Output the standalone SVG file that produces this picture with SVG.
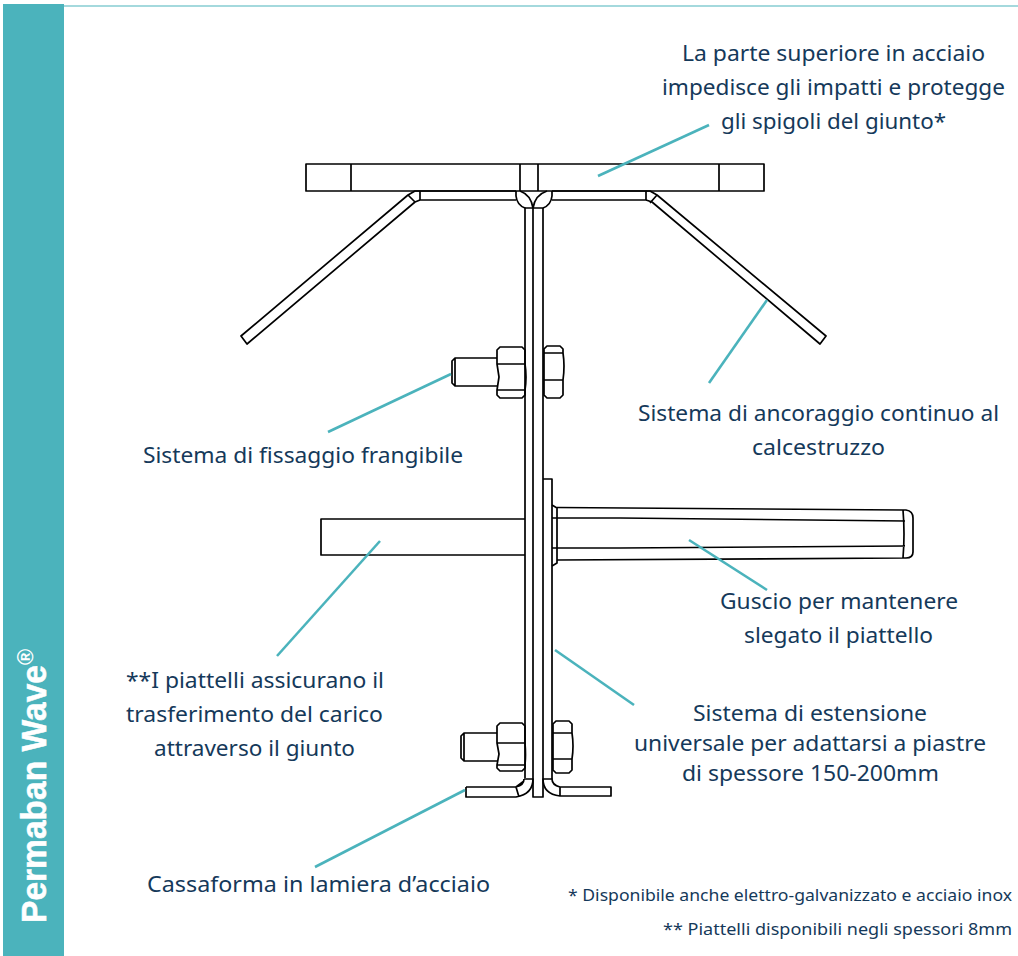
<svg xmlns="http://www.w3.org/2000/svg" width="1018" height="956" viewBox="0 0 1018 956">
<style>
.d{fill:none;stroke:#000;stroke-width:1.7;stroke-linejoin:round}
.c{fill:none;stroke:#4bb3bc;stroke-width:2.6}
.t{font-family:"Noto Sans","Open Sans",sans-serif;font-size:22.5px;fill:#15395a}
.n{font-size:17px}
</style>
<rect width="1018" height="956" fill="#fff"/>
<g id="sidebar">
<rect x="3" y="4" width="61" height="952" fill="#4bb3bc"/>
<path d="M64 6H1018" stroke="#4bb3bc" stroke-width="1.2"/>
<text transform="translate(46 923) rotate(-90)" font-family="'Liberation Sans',Arial,sans-serif" font-weight="700" font-size="35" fill="#fff" stroke="#fff" stroke-width=".5" textLength="258" lengthAdjust="spacingAndGlyphs">Permaban Wave</text>
<text transform="translate(33 665) rotate(-90)" font-family="'Liberation Sans',Arial,sans-serif" font-weight="700" font-size="22" fill="#fff">®</text>
</g>
<g id="top-plate">
<path class="d" d="M306 164H764V191H306ZM351 164V191M719 164V191M520 164V191M538 164V191"/>
</g>
<g id="left-anchor">
<path class="d" d="M516 191H420M516 200H420V191H415L408 195L241 336L247 344L415 202L420 200M408 195L415 202"/>
<path class="d" d="M516 191V196Q517 205 525 208V778M520 191Q531 195 533 208"/>
</g>
<g id="right-anchor">
<path class="d" d="M552 191H646M552 200H646V191H650L657 195L826 336L820 344L652 202L646 200M657 195L650 203"/>
<path class="d" d="M552 191V196Q551 205 543 208M547 191Q535 195 533 208M525 208H543"/>
</g>
<g id="web">
<path class="d" d="M533 208V797H543V208"/>
<path class="d" d="M543 479H552V779"/>
</g>
<g id="upper-bolt">
<path class="d" d="M497 358H455L452 361V383L455 386H497M455 358V386"/>
<path class="d" d="M500 347H522L525 350V364Q527 377 525 390V395L522 398H500L497 395V390L499 377L497 364V350ZM497 364H525M497 390H525"/>
<path class="d" d="M547 346H560L563 349V353Q565 366 563 380V395L560 398H547L544 395V349ZM544 353H563M544 380H563"/>
</g>
<g id="dowel-plate">
<path class="d" d="M525 519H321V555H525"/>
</g>
<g id="sleeve">
<path class="d" d="M552 505L557 508V563L552 566"/>
<path class="d" d="M557 507.500L903 510H906Q913 511 913 518V552Q913 558 906 558H903L557 560M552 518L620 518L905 521M552 548L620 548L905 546M903 510Q905 534 903 558"/>
</g>
<g id="lower-bolt">
<path class="d" d="M497 733H464L461 736V758L464 761H497M464 733V761"/>
<path class="d" d="M500 723H522L525 726V743Q526 755 525 765V768L522 771H500L497 768V765L499 754L497 743V726ZM497 743H525M497 765H525"/>
<path class="d" d="M556 721H569L572 724V733Q574 746 572 759V770L569 773H556L553 770V724ZM553 733H572M553 759H572"/>
</g>
<g id="form-left">
<path class="d" d="M466 787H516Q524 785 524 779M466 787V797H516Q533 794 533 779H524M516 787L519 797M516 787L524 781"/>
</g>
<g id="form-right">
<path class="d" d="M611 787H560Q552 785 552 779H543Q543 794 560 796H611ZM560 787V796"/>
</g>
<g id="connectors">
<path class="c" d="M598 176L709 125"/>
<path class="c" d="M709 383L767 300"/>
<path class="c" d="M451 374L328 432"/>
<path class="c" d="M380 541L277 656"/>
<path class="c" d="M689 540L767 590"/>
<path class="c" d="M555 650L634 705"/>
<path class="c" d="M465 790L315 867"/>
</g>
<g id="labels">
<text class="t" x="682" y="61" textLength="303" lengthAdjust="spacingAndGlyphs">La parte superiore in acciaio</text>
<text class="t" x="662" y="95" textLength="343" lengthAdjust="spacingAndGlyphs">impedisce gli impatti e protegge</text>
<text class="t" x="721" y="129" textLength="225" lengthAdjust="spacingAndGlyphs">gli spigoli del giunto*</text>
<text class="t" x="638" y="421" textLength="361" lengthAdjust="spacingAndGlyphs">Sistema di ancoraggio continuo al</text>
<text class="t" x="752" y="455" textLength="133" lengthAdjust="spacingAndGlyphs">calcestruzzo</text>
<text class="t" x="143" y="463" textLength="320" lengthAdjust="spacingAndGlyphs">Sistema di fissaggio frangibile</text>
<text class="t" x="720" y="609" textLength="238" lengthAdjust="spacingAndGlyphs">Guscio per mantenere</text>
<text class="t" x="744" y="643" textLength="189" lengthAdjust="spacingAndGlyphs">slegato il piattello</text>
<text class="t" x="126" y="688" textLength="258" lengthAdjust="spacingAndGlyphs">**I piattelli assicurano il</text>
<text class="t" x="126" y="722" textLength="257" lengthAdjust="spacingAndGlyphs">trasferimento del carico</text>
<text class="t" x="154" y="756" textLength="201" lengthAdjust="spacingAndGlyphs">attraverso il giunto</text>
<text class="t" x="693" y="721" textLength="234" lengthAdjust="spacingAndGlyphs">Sistema di estensione</text>
<text class="t" x="634" y="751" textLength="352" lengthAdjust="spacingAndGlyphs">universale per adattarsi a piastre</text>
<text class="t" x="682" y="781" textLength="257" lengthAdjust="spacingAndGlyphs">di spessore 150-200mm</text>
<text class="t" x="147" y="892" textLength="343" lengthAdjust="spacingAndGlyphs">Cassaforma in lamiera d’acciaio</text>
<text class="t n" x="568" y="901" textLength="444" lengthAdjust="spacingAndGlyphs">* Disponibile anche elettro-galvanizzato e acciaio inox</text>
<text class="t n" x="663" y="935" textLength="349" lengthAdjust="spacingAndGlyphs">** Piattelli disponibili negli spessori 8mm</text>
</g>
</svg>
